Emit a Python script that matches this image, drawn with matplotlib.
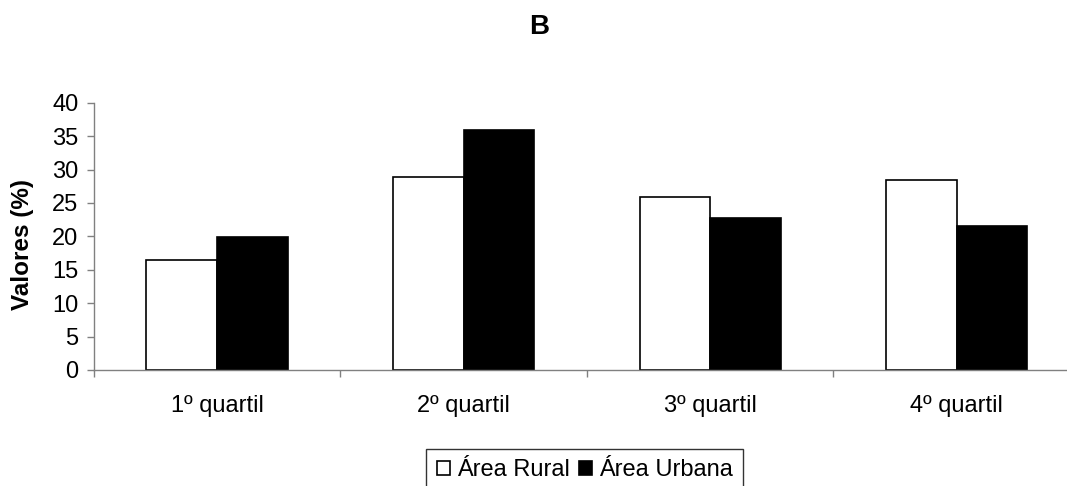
import matplotlib
matplotlib.use("Agg")
import matplotlib.pyplot as plt
import numpy as np
from matplotlib.patches import Patch

plt.rcParams['font.family'] = ['Liberation Sans', 'DejaVu Sans']

categories = ['1º quartil', '2º quartil', '3º quartil', '4º quartil']
rural = [16.5, 28.9, 25.9, 28.4]
urbana = [19.9, 35.9, 22.7, 21.6]
y_ticks = [0, 5, 10, 15, 20, 25, 30, 35, 40]

W, H = 1067, 486
fig = plt.figure(figsize=(W / 100, H / 100), dpi=100)

# axes box in pixels (right end runs past the image edge like the original)
left, right, top, bottom = 93.7, 1080, 102.7, 370
ax = fig.add_axes([left / W, 1 - bottom / H, (right - left) / W, (bottom - top) / H])

x = np.arange(len(categories))
width = 0.286

ax.bar(x - width / 2, rural, width, color='white', edgecolor='black', linewidth=1.2)
ax.bar(x + width / 2, urbana, width, color='black', edgecolor='black', linewidth=1.2)

ax.set_xlim(-0.5, 3.5)
ax.set_ylim(0, 40)
ax.set_yticks(y_ticks)

for s in ['top', 'right']:
    ax.spines[s].set_visible(False)
for s in ['left', 'bottom']:
    ax.spines[s].set_color('#808080')
    ax.spines[s].set_linewidth(1.0)

ax.tick_params(axis='y', direction='out', length=5, width=1, color='#808080',
               labelsize=17, pad=6)

# category labels in the middle, tick marks between categories
ax.set_xticks(x)
ax.set_xticklabels(categories)
ax.set_xticks(np.arange(-0.5, 4.0, 1.0), minor=True)
ax.tick_params(axis='x', which='major', length=0, labelsize=17, pad=18)
ax.tick_params(axis='x', which='minor', direction='out', length=5, width=1,
               color='#808080')

fig.text(539 / W, 1 - 27 / H, 'B', ha='center', va='center', fontsize=20,
         fontweight='bold')
fig.text(23 / W, 1 - 244 / H, 'Valores (%)', ha='center', va='center',
         rotation=90, fontsize=17.5, fontweight='bold')

handles = [Patch(facecolor='white', edgecolor='black', linewidth=1.2),
           Patch(facecolor='black', edgecolor='black', linewidth=1.2)]
leg = fig.legend(handles, ['Área Rural', 'Área Urbana'], ncol=2,
                 loc='upper center', bbox_to_anchor=(584.7 / W, 1 - 448.7 / H),
                 fontsize=17, frameon=True, fancybox=False, edgecolor='black',
                 handlelength=0.55, handleheight=0.55, handletextpad=0.3,
                 columnspacing=0.4, borderpad=0.45, borderaxespad=0)
leg.get_frame().set_linewidth(1.0)

plt.savefig('out.png', dpi=100)
plt.close()
